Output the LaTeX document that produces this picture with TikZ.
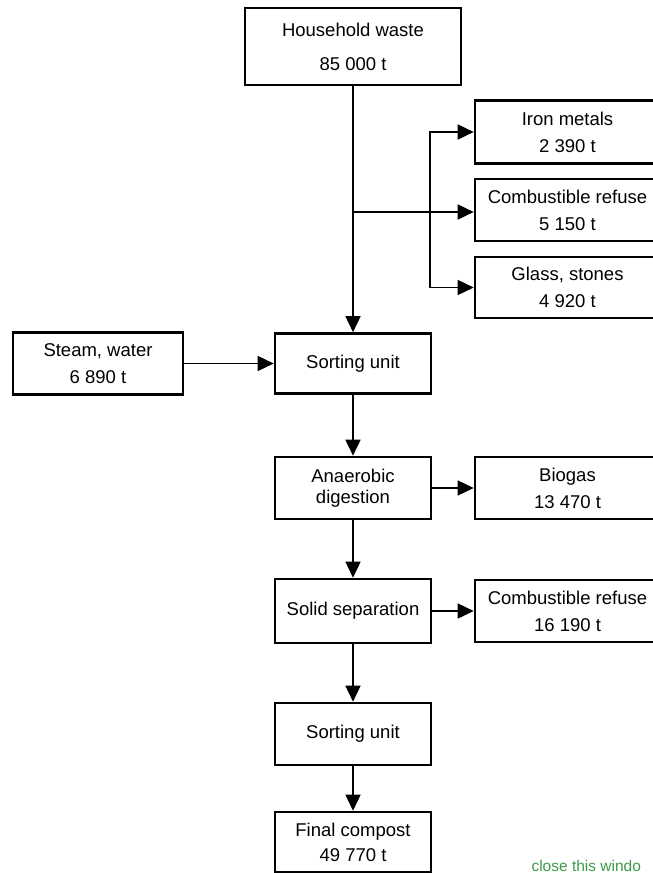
\documentclass[tikz,border=0pt]{standalone}
\usepackage{fontspec}
\setmainfont{Liberation Sans}
\usetikzlibrary{arrows.meta, positioning}
\definecolor{linkgreen}{HTML}{3C9A48}

\begin{document}
\begin{tikzpicture}[x=1pt, y=-1pt,
    box/.style={draw, line width=2.6pt, minimum width=#1, minimum height=62pt, inner sep=0pt, align=center, font=\fontsize{18.5}{27}\selectfont},
    box/.default=156pt,
    arrow/.style={-{Triangle[length=16pt, width=15pt]}, line width=1.6pt}
]
\useasboundingbox (0,0) rectangle (653,873);
% main column
\node[box=216pt, minimum height=77pt] (waste) at (353,46.5) {Household waste\\[7pt]85 000 t};
\node[box, minimum height=60pt] (sort1) at (353,363.5) {Sorting unit};
\node[box] (anaer) at (353,488) {Anaerobic\\[-6pt]digestion};
\node[box, minimum height=64pt] (solid) at (353,611) {Solid separation};
\node[box] (sort2) at (353,734) {Sorting unit};
\node[box, minimum height=60pt] (final) at (353,842) {Final compost\\[-2pt]49 770 t};
% inputs and outputs
\node[box=170pt] (steam) at (98,363.5) {Steam, water\\6 890 t};
\node[box=185pt, minimum height=63pt] (iron) at (567.5,132) {Iron metals\\2 390 t};
\node[box=185pt] (comb1) at (567.5,210) {Combustible refuse\\5 150 t};
\node[box=185pt, minimum height=61pt] (glass) at (567.5,287.5) {Glass, stones\\4 920 t};
\node[box=185pt] (biogas) at (567.5,488) {Biogas\\13 470 t};
\node[box=185pt] (comb2) at (567.5,611) {Combustible refuse\\16 190 t};
\node[font=\fontsize{15.5}{19}\selectfont, text=linkgreen, anchor=base west] (close) at (528,871) {close this windo};
% flows
\coordinate (split) at (353,212);
\coordinate (fork) at (430,212);
\draw[arrow] (waste) -- (sort1);
\draw[arrow] (split) -- (split -| comb1.west);
\draw[arrow] (fork) |- (iron.west);
\draw[arrow] (fork) |- (glass.west);
\draw[arrow] (steam) -- (sort1);
\draw[arrow] (sort1) -- (anaer);
\draw[arrow] (anaer) -- (biogas);
\draw[arrow] (anaer) -- (solid);
\draw[arrow] (solid) -- (comb2);
\draw[arrow] (solid) -- (sort2);
\draw[arrow] (sort2) -- (final);
\end{tikzpicture}
\end{document}
